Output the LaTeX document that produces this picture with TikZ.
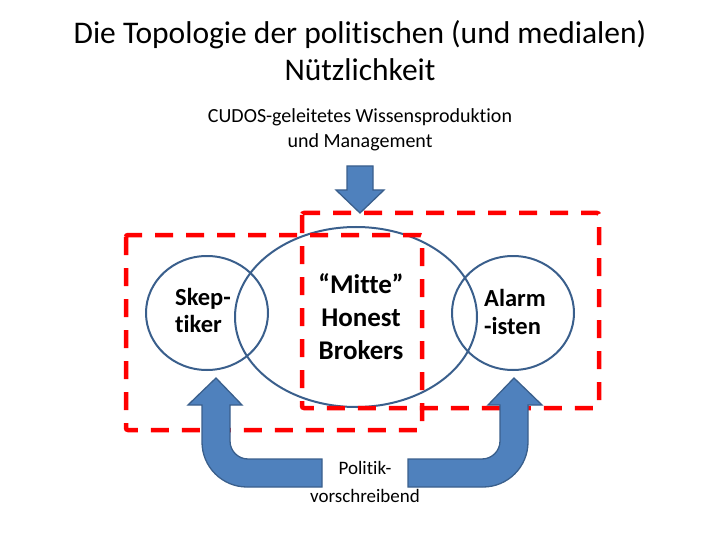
\documentclass[tikz,border=0pt]{standalone}
\usepackage{fontspec}
\setmainfont{Carlito}[Ligatures={NoCommon}]
\usetikzlibrary{shapes.geometric}
\definecolor{arrowblue}{HTML}{4F81BD}
\definecolor{edgeblue}{HTML}{3A5F8C}
\begin{document}
\begin{tikzpicture}[x=1pt,y=-1pt,
  ring/.style={draw=edgeblue,line width=2pt,ellipse,inner sep=0pt},
  redbox/.style={draw=red,line width=4.5pt,dash pattern=on 18pt off 13pt,rounded corners=2pt},
  bigarrow/.style={fill=arrowblue,draw=edgeblue,line width=1.3pt,line join=miter},
  lbl/.style={align=center,inner sep=0pt}]
\useasboundingbox (0,0) rectangle (720,540);
% title
\node[lbl,font=\fontsize{31.5}{37}\selectfont] (title) at (360,51) {Die Topologie der politischen (und medialen)\\Nützlichkeit};
\node[lbl,font=\fontsize{20}{25}\selectfont] (cudos) at (360,130) {CUDOS-geleitetes Wissensproduktion\\und Management};
% ellipses
\node[ring,minimum width=242,minimum height=180] (mid) at (356,317) {};
\node[ring,minimum width=122,minimum height=114] (skep) at (207,313) {};
\node[ring,minimum width=122,minimum height=114] (alarm) at (513,313) {};
% dashed boxes
\draw[redbox] (126,235) rectangle (422,430);
\draw[redbox] (302,213) rectangle (599,408);
% texts
\node[lbl,align=left,anchor=west,font=\bfseries\fontsize{24.5}{27}\selectfont] (skept) at (175,310) {Skep-\\tiker};
\node[lbl,align=left,anchor=west,font=\bfseries\fontsize{24.5}{28}\selectfont] (alarmt) at (484,312) {Alarm\\-isten};
\node[lbl,font=\bfseries\fontsize{27}{33}\selectfont] (mitte) at (361,317) {“Mitte”\\Honest\\Brokers};
\node[lbl,font=\fontsize{19}{28}\selectfont] (polit) at (365,482) {Politik-\\vorschreibend};
% top arrow
\draw[bigarrow] (347,166) -- (373,166) -- (373,190) -- (384,190) -- (360,213) -- (336,190) -- (347,190) -- cycle;
% left U arrow
\draw[bigarrow] (216,378) -- (242,405) -- (230,405) -- (230,441)
  arc[start angle=180,end angle=90,radius=18] -- (322,459) -- (322,487) -- (247,487)
  arc[start angle=90,end angle=180,radius=45] -- (202,405) -- (188,405) -- cycle;
% right U arrow
\draw[bigarrow] (514,378) -- (488,405) -- (500,405) -- (500,441)
  arc[start angle=0,end angle=90,radius=18] -- (408,459) -- (408,487) -- (483,487)
  arc[start angle=90,end angle=0,radius=45] -- (528,405) -- (542,405) -- cycle;
\end{tikzpicture}
\end{document}
